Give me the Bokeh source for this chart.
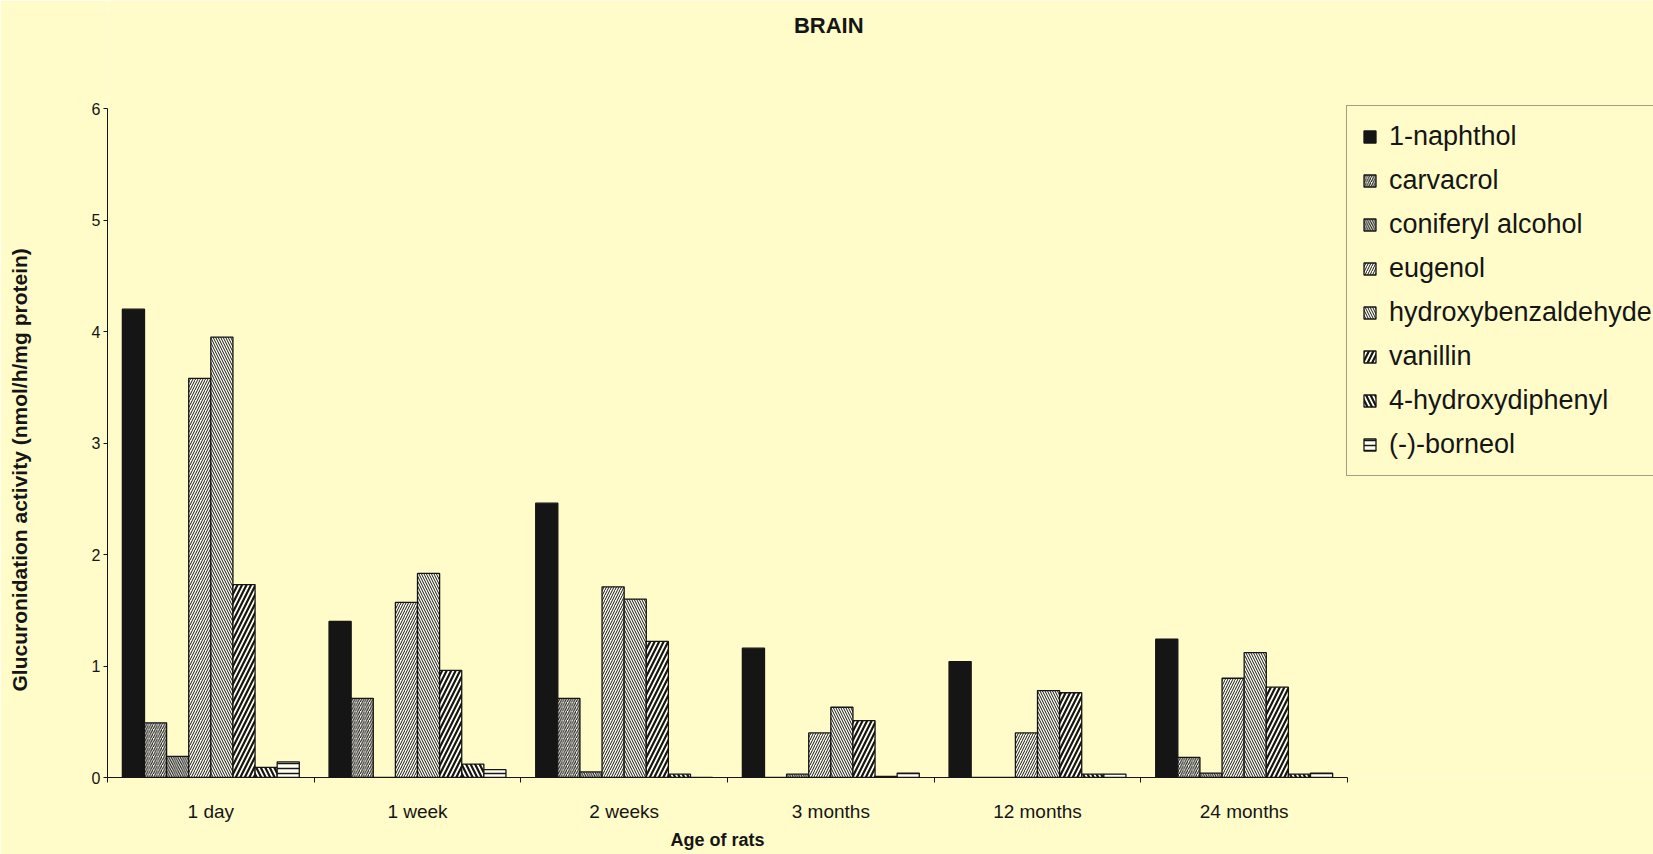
from bokeh.plotting import figure
from bokeh.models import Range1d, FixedTicker, Legend, LegendItem, Label, Title
from bokeh.embed import file_html
from bokeh.resources import INLINE

# ---------------- data ----------------
ages = ["1 day", "1 week", "2 weeks", "3 months", "12 months", "24 months"]
series_names = ["1-naphthol", "carvacrol", "coniferyl alcohol", "eugenol",
                "hydroxybenzaldehyde", "vanillin", "4-hydroxydiphenyl", "(-)-borneol"]
naphthol = [4.20, 1.40, 2.46, 1.16, 1.04, 1.24]
carvacrol = [0.49, 0.71, 0.71, 0.00, 0.00, 0.18]
coniferyl_alcohol = [0.19, 0.00, 0.05, 0.03, 0.00, 0.04]
eugenol = [3.58, 1.57, 1.71, 0.40, 0.40, 0.89]
hydroxybenzaldehyde = [3.95, 1.83, 1.60, 0.63, 0.78, 1.12]
vanillin = [1.73, 0.96, 1.22, 0.51, 0.76, 0.81]
hydroxydiphenyl = [0.09, 0.12, 0.03, 0.01, 0.03, 0.03]
borneol = [0.14, 0.07, 0.00, 0.04, 0.03, 0.04]
y_ticks = [0, 1, 2, 3, 4, 5, 6]
y_max = 6
title_text = "BRAIN"
x_title = "Age of rats"
y_title = "Glucuronidation activity (nmol/h/mg protein)"

series_values = [naphthol, carvacrol, coniferyl_alcohol, eugenol,
                 hydroxybenzaldehyde, vanillin, hydroxydiphenyl, borneol]

# ---------------- styles / layout ----------------
BG = "#FFFCC9"
INK = "#151515"
FONT = "Liberation Sans"
PALE = "#FFFFF2"
styles = [
    dict(fill_color=INK),
    dict(fill_color=PALE, hatch_pattern="/", hatch_scale=4.5, hatch_weight=1.1, hatch_color=INK),
    dict(fill_color=PALE, hatch_pattern="\\", hatch_scale=4.5, hatch_weight=1.1, hatch_color=INK),
    dict(fill_color=PALE, hatch_pattern="/", hatch_scale=5.0, hatch_weight=1.0, hatch_color=INK),
    dict(fill_color=PALE, hatch_pattern="\\", hatch_scale=5.0, hatch_weight=1.0, hatch_color=INK),
    dict(fill_color=PALE, hatch_pattern="/", hatch_scale=9.0, hatch_weight=2.2, hatch_color=INK),
    dict(fill_color=PALE, hatch_pattern="\\", hatch_scale=9.0, hatch_weight=2.2, hatch_color=INK),
    dict(fill_color=PALE, hatch_pattern="-", hatch_scale=5.0, hatch_weight=1.5, hatch_color=INK),
]

W, H = 1653, 854
LEFT, BOTTOM = 107, 77            # frame borders (px)
AXIS_W = 1240                     # px covered by the 6 groups
AXIS_H = 669                      # px covered by 0..6
frame_w = W - LEFT
frame_h = H - BOTTOM
n_groups = len(ages)
x_end = n_groups * frame_w / AXIS_W
y_end = y_max * frame_h / AXIS_H

p = figure(width=W, height=H, output_backend="svg", toolbar_location=None,
           x_range=Range1d(0, x_end), y_range=Range1d(0, y_end),
           min_border_left=LEFT, min_border_right=0, min_border_top=0, min_border_bottom=BOTTOM,
           background_fill_color=BG, border_fill_color=BG)
p.outline_line_color = None
p.grid.visible = False

# bars
bar_w = 0.107
n_series = len(series_values)
items = []
for i, (name, vals, st) in enumerate(zip(series_names, series_values, styles)):
    xs = [g + 0.5 + (i - (n_series - 1) / 2) * bar_w for g in range(n_groups)]
    r = p.vbar(x=xs, top=vals, bottom=0, width=bar_w, line_color=INK, line_width=1.3, **st)
    items.append(LegendItem(label=name, renderers=[r]))

# chart title
title = Label(x=3.49, y=y_end - 25 / (AXIS_H / y_max), text=title_text,
              text_align="center", text_baseline="middle",
              text_font=FONT, text_font_size="22px", text_font_style="bold", text_color=INK)
p.add_layout(title)

# y axis
ya = p.yaxis[0]
ya.bounds = (0, y_max)
ya.ticker = FixedTicker(ticks=y_ticks)
ya.major_tick_out = 4
ya.major_tick_in = 0
ya.minor_tick_line_color = None
ya.major_label_standoff = 3
ya.axis_line_color = INK
ya.major_tick_line_color = INK
ya.major_label_text_font = FONT
ya.major_label_text_font_size = "16px"
ya.major_label_text_color = INK

# x axis: labels at group centres, ticks at group boundaries
xa = p.xaxis[0]
xa.bounds = (0, n_groups)
centres = [g + 0.5 for g in range(n_groups)]
xa.ticker = FixedTicker(ticks=centres, minor_ticks=list(range(n_groups + 1)))
xa.major_label_overrides = {c: lab for c, lab in zip(centres, ages)}
xa.major_tick_line_color = None
xa.major_tick_out = 0
xa.major_tick_in = 0
xa.minor_tick_out = 5
xa.minor_tick_in = 0
xa.minor_tick_line_color = INK
xa.axis_line_color = INK
xa.major_label_standoff = 18
xa.major_label_text_font = FONT
xa.major_label_text_font_size = "19px"
xa.major_label_text_color = INK

# axis titles, positioned along the axes (centred on the plotted 0..6 area)
xt = Title(text=x_title, align="left", offset=563, standoff=6,
           text_font=FONT, text_font_size="18px", text_font_style="bold", text_color=INK)
p.add_layout(xt, "below")
# empty spacer between the y tick labels and the y title
spacer = Title(text=" ", align="left", offset=0, standoff=42,
               text_font=FONT, text_font_size="12px", text_color=BG)
p.add_layout(spacer, "left")
yt = Title(text=y_title, align="left", offset=86, standoff=0,
           text_font=FONT, text_font_size="21px", text_font_style="bold", text_color=INK)
p.add_layout(yt, "left")

legend = Legend(items=items, location=(1239, 301), margin=0, padding=15, spacing=13,
                glyph_width=15, glyph_height=15, label_standoff=12,
                label_text_font=FONT, label_text_font_size="27px", label_text_color=INK,
                border_line_color="#444444", border_line_width=1.5,
                background_fill_color=BG, background_fill_alpha=1.0)
p.add_layout(legend)

open("out.html", "w").write(file_html(p, INLINE))
